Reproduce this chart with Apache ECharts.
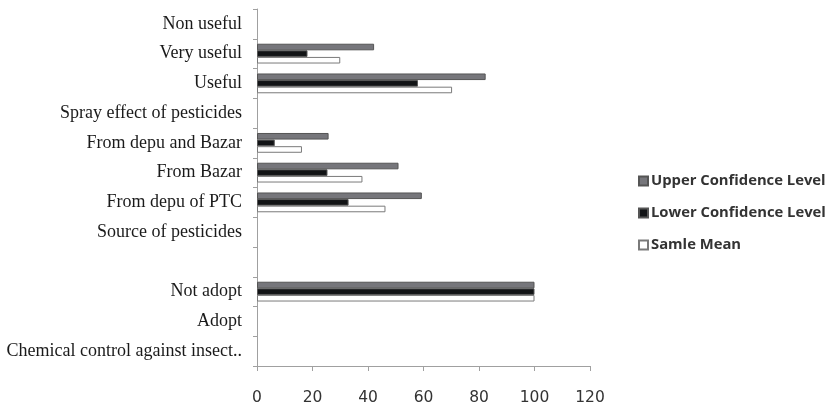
<!DOCTYPE html>
<html><head><meta charset="utf-8">
<script src="https://cdn.jsdelivr.net/npm/echarts@6/dist/echarts.min.js"></script>
<style>html,body{margin:0;padding:0;background:#fff}#c{width:828px;height:406px}</style>
</head><body><div id="c"></div>
<script>
// categories from bottom to top
const categories = ["Chemical control against insect..", "Adopt", "Not adopt", "", "Source of pesticides", "From depu of PTC", "From Bazar", "From depu and Bazar", "Spray effect of pesticides", "Useful", "Very useful", "Non useful"];
const upperConfidence = [null, null, 100, null, null, 59.4, 51, 25.8, null, 82.4, 42.2, null];
const lowerConfidence = [null, null, 100, null, null, 33, 25.4, 6.4, null, 58, 18.2, null];
const sampleMean = [null, null, 100, null, null, 46.3, 38, 16.2, null, 70.3, 30, null];
const xTicks = [0, 20, 40, 60, 80, 100, 120];

const chart = echarts.init(document.getElementById('c'), null, {renderer: 'canvas'});
const barW = 6.6;
chart.setOption({
  animation: false,
  backgroundColor: '#fff',
  grid: {left: 257, right: 238, top: 9, bottom: 38, containLabel: false},
  legend: {
    orient: 'vertical', left: 633, top: 166, itemGap: 12,
    itemWidth: 9, itemHeight: 9, icon: 'rect',
    data: ['Upper Confidence Level', 'Lower Confidence Level', 'Samle Mean'],
    textStyle: {fontFamily: 'Open Sans', fontWeight: 'bold', fontSize: 14.8, color: '#333', lineHeight: 20, padding: [0,0,0,-2]}
  },
  xAxis: {
    type: 'value', min: xTicks[0], max: xTicks[xTicks.length-1], interval: 20,
    axisLine: {show: true, lineStyle: {color: '#a0a0a0'}},
    axisTick: {show: true, length: 5, lineStyle: {color: '#a0a0a0'}},
    splitLine: {show: false},
    axisLabel: {margin: 24, fontFamily: 'DejaVu Sans', fontSize: 15.5, color: '#333'}
  },
  yAxis: {
    type: 'category', data: categories,
    axisLine: {show: true, lineStyle: {color: '#a0a0a0'}},
    axisTick: {show: true, length: 4, alignWithLabel: false, lineStyle: {color: '#a0a0a0'}},
    axisLabel: {margin: 15, fontFamily: 'Liberation Serif', fontSize: 18, color: '#1a1a1a'}
  },
  series: [
    {name: 'Upper Confidence Level', type: 'bar', data: upperConfidence, barWidth: barW, barGap: '0%',
     itemStyle: {color: '#76767b', borderColor: '#555', borderWidth: 1}},
    {name: 'Lower Confidence Level', type: 'bar', data: lowerConfidence, barWidth: barW, barGap: '0%',
     itemStyle: {color: '#121416', borderColor: '#555', borderWidth: 1}},
    {name: 'Samle Mean', type: 'bar', data: sampleMean, barWidth: barW, barGap: '0%',
     itemStyle: {color: '#ffffff', borderColor: '#7a7a7a', borderWidth: 1}}
  ]
});
</script></body></html>
